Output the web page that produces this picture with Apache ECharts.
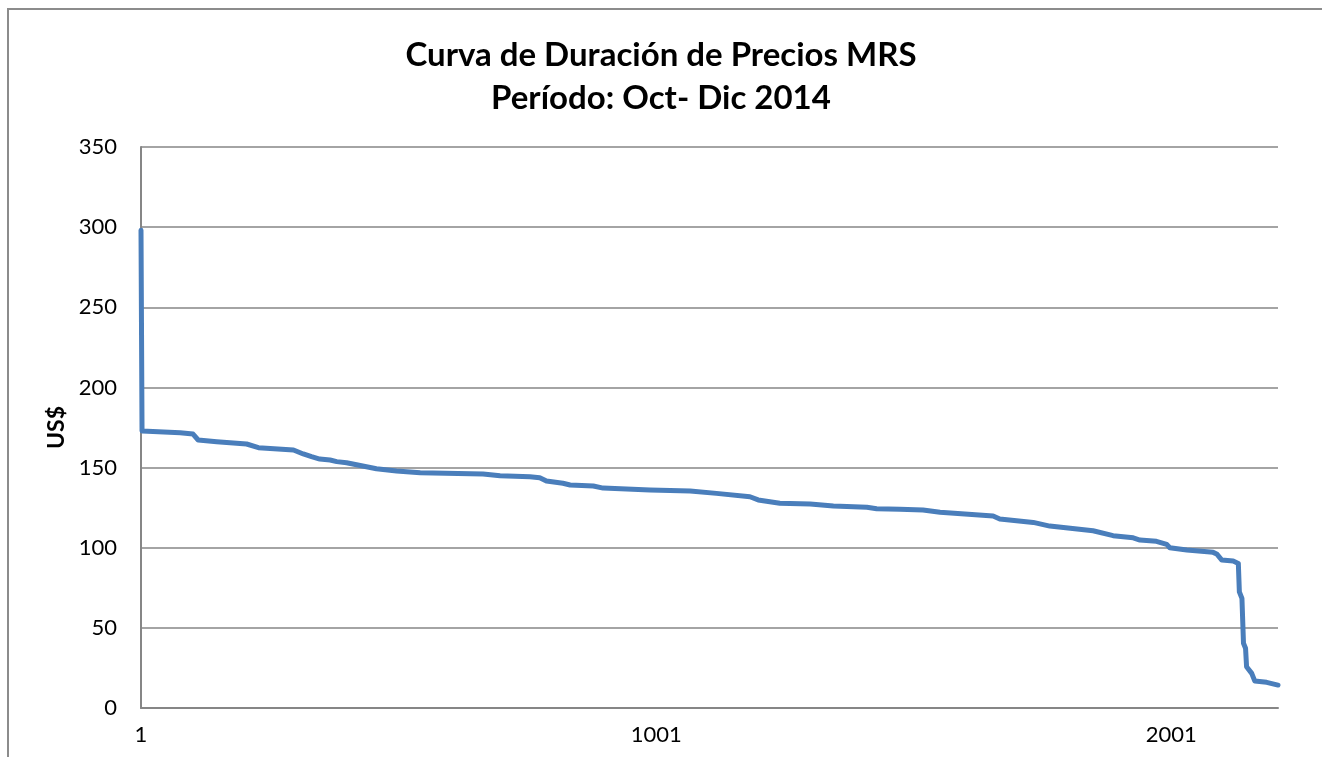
<!DOCTYPE html>
<html>
<head>
<meta charset="utf-8">
<script src="https://cdn.jsdelivr.net/npm/echarts@6/dist/echarts.min.js"></script>
<style>
html,body{margin:0;padding:0;background:#fff;}
#chart{width:1322px;height:757px;}
</style>
</head>
<body>
<div id="chart"></div>
<script>
// Hour rank (1..2208) at breakpoints of the duration curve, and price in US$
const hours = [1, 3, 77, 102, 112, 148, 206, 229, 297, 316, 332, 348, 368, 381, 400, 458, 497, 543, 665, 698, 756, 775, 788, 820, 834, 879, 898, 989, 1067, 1118, 1183, 1199, 1241, 1300, 1345, 1410, 1429, 1474, 1519, 1552, 1655, 1668, 1733, 1765, 1849, 1888, 1927, 1940, 1972, 1992, 1998, 2031, 2082, 2089, 2099, 2121, 2131, 2133, 2138, 2141, 2145, 2147, 2157, 2163, 2186, 2208];
const prices = [298, 172.8, 171.7, 170.9, 167.2, 166.1, 164.7, 162.4, 161, 158.5, 156.8, 155.3, 154.7, 153.7, 153, 149.3, 147.9, 146.8, 146, 144.9, 144.3, 143.7, 141.6, 140.2, 139.1, 138.5, 137.2, 136, 135.4, 133.9, 131.8, 129.8, 127.7, 127.3, 126, 125.2, 124.3, 124, 123.5, 122.1, 119.8, 117.9, 115.8, 113.5, 110.6, 107.5, 106.2, 104.8, 104, 102.1, 100, 98.6, 97.1, 96.1, 92.3, 91.7, 90.2, 72.5, 68.4, 40.4, 37.3, 25.8, 21.6, 16.8, 16, 14.3];
const totalHours = 2208;
const xTickStep = 1000;
const yTicks = [0, 50, 100, 150, 200, 250, 300, 350];
const titleLines = ['Curva de Duración de Precios MRS', 'Período: Oct- Dic 2014'];
const yName = 'US$';

const FONT = 'Lato';
const GRAY = '#868686';

const chart = echarts.init(document.getElementById('chart'), null, {renderer: 'canvas'});
const seriesData = hours.map((h, i) => [h - 1, prices[i]]);

chart.setOption({
  animation: false,
  backgroundColor: '#fff',
  graphic: [{
    type: 'rect',
    shape: {x: 8, y: 9, width: 1340, height: 800},
    style: {fill: 'none', stroke: '#8c8c8c', lineWidth: 2},
    silent: true, z: -1
  }],
  title: {
    text: titleLines.join('\n'),
    left: 'center',
    top: 29,
    textStyle: {fontFamily: FONT, fontWeight: 'bold', fontSize: 33, lineHeight: 43, color: '#000'}
  },
  grid: {left: 141, right: 44, top: 147, bottom: 49, containLabel: false},
  xAxis: {
    type: 'value',
    min: 0,
    max: totalHours - 1,
    interval: xTickStep,
    axisLine: {show: true, lineStyle: {color: GRAY, width: 2}},
    axisTick: {show: false},
    splitLine: {show: false},
    axisLabel: {
      showMaxLabel: false,
      margin: 16,
      fontFamily: FONT, fontSize: 22, color: '#000',
      formatter: v => (v % xTickStep === 0 ? String(v + 1) : '')
    }
  },
  yAxis: {
    type: 'value',
    min: yTicks[0],
    max: yTicks[yTicks.length - 1],
    interval: yTicks[1] - yTicks[0],
    name: yName,
    nameLocation: 'middle',
    nameGap: 72,
    nameRotate: 90,
    nameTextStyle: {fontFamily: FONT, fontWeight: 'bold', fontSize: 23, color: '#000'},
    axisLine: {show: true, lineStyle: {color: GRAY, width: 2}},
    axisTick: {show: false},
    splitLine: {show: true, lineStyle: {color: GRAY, width: 1.5}},
    axisLabel: {margin: 24, fontFamily: FONT, fontSize: 22, color: '#000'}
  },
  series: [{
    type: 'line',
    data: seriesData,
    showSymbol: false,
    symbol: 'none',
    lineStyle: {color: '#4a7ebb', width: 5, cap: 'round', join: 'round'},
    z: 3
  }]
});
</script>
</body>
</html>
